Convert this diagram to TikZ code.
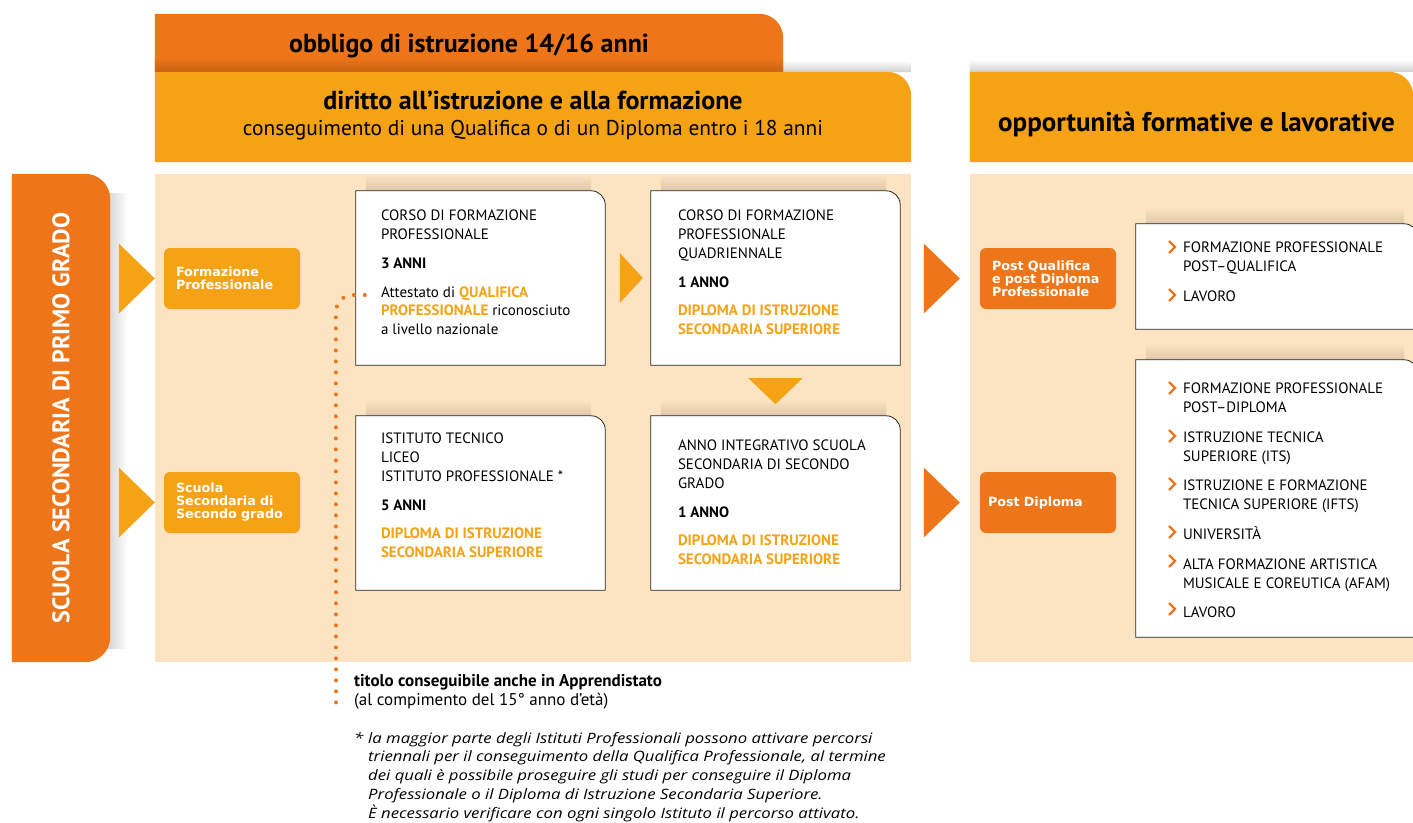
\documentclass[tikz,border=0pt]{standalone}
\usepackage{fontspec}
\setmainfont{PT Sans}
\newfontfamily\tagfont{DejaVu Sans}
\newfontfamily\notefont[FakeStretch=1.17]{Open Sans}
\definecolor{obblorange}{RGB}{236,118,25}
\definecolor{obbldark}{RGB}{196,96,20}
\definecolor{dirittoyellow}{RGB}{245,162,20}
\definecolor{panelpeach}{RGB}{252,227,194}
\definecolor{shadowtan}{RGB}{222,198,168}
\pgfdeclarelayer{background}
\pgfsetlayers{background,main}
\newcommand\hl[1]{\textcolor{dirittoyellow}{\textbf{#1}}}
\newcommand\tabpath[3]{% style, node, corner radius
	\path[#1] (#2.south west) -- (#2.north west) -- ([xshift=-#3]#2.north east)
		arc[start angle=90, end angle=0, radius=#3] -- (#2.south east) -- cycle;
}
\tikzset{
	boxsize/.style 2 args={minimum width=#1, minimum height=#2, inner sep=0pt},
	hdrtext/.style={font=\bfseries\fontsize{26}{30}\selectfont},
	subtext/.style={font=\fontsize{21.4}{24}\selectfont},
	boxtext/.style={anchor=north west, inner sep=0pt, align=left, font=\fontsize{15}{18.8}\selectfont},
	tag/.style={fill=#1, rounded corners=6pt, minimum width=136pt, minimum height=61pt,
		text width=112pt, inner xsep=12pt, align=left, text=white,
		font=\tagfont\bfseries\fontsize{12.7}{13}\selectfont},
	whitebox/.style={fill=white, draw=black!85, line width=0.8pt},
	chevron/.style={obblorange, line width=2.2pt},
	dotline/.style={obblorange, line width=4pt, line cap=round, dash pattern=on 0pt off 11pt},
	notetext/.style={anchor=north west, inner sep=0pt, align=left, font=\notefont\itshape\fontsize{14.3}{18.8}\selectfont},
}
\begin{document}
\begin{tikzpicture}[x=1pt, y=-1pt]
	\useasboundingbox (0,0) rectangle (1413,822);
	% headers
	\node[boxsize={628pt}{58pt}] (obbl) at (469,43) {};
	\node[hdrtext] (obbltxt) at ([yshift=-3pt]obbl.center) {obbligo di istruzione 14/16 anni};
	\node[boxsize={756pt}{90pt}] (dir) at (533,117) {};
	\node[hdrtext] (dirtitle) at ([yshift=16.5pt]dir.center) {diritto all’istruzione e alla formazione};
	\node[subtext] (dirsub) at ([yshift=-13.5pt]dir.center) {conseguimento di una Qualifica o di un Diploma entro i 18 anni};
	\node[boxsize={443pt}{90pt}] (opp) at (1191.5,117) {};
	\node[hdrtext, font=\bfseries\fontsize{27}{30}\selectfont] (opptxt) at ([shift={(5pt,-7pt)}]opp.center) {opportunità formative e lavorative};
	% panels
	\node[boxsize={98pt}{488pt}] (primo) at (61,418) {};
	\node[rotate=90, text=white, font=\bfseries\fontsize{24}{26}\selectfont] (primotxt) at (primo.center) {SCUOLA SECONDARIA DI PRIMO GRADO};
	\node[boxsize={756pt}{488pt}] (mid) at (533,418) {};
	\node[boxsize={443pt}{488pt}] (right) at (1191.5,418) {};
	% tags
	\node[tag=dirittoyellow] (fp) at (232,278.5) {Formazione\\Professionale};
	\node[tag=dirittoyellow] (ss) at (232,502.5) {Scuola\\Secondaria di\\Secondo grado};
	\node[tag=obblorange] (pq) at (1048,278.5) {Post Qualifica\\e post Diploma\\Professionale};
	\node[tag=obblorange, inner xsep=8pt, text width=120pt] (pd) at (1048,502.5) {Post Diploma};
	% white boxes
	\node[boxsize={249pt}{174pt}] (b1) at (480.5,278) {};
	\node[boxsize={249pt}{174pt}] (b2) at (775.5,278) {};
	\node[boxsize={249pt}{174pt}] (b3) at (480.5,503) {};
	\node[boxsize={249pt}{174pt}] (b4) at (775.5,503) {};
	\node[boxsize={282pt}{105pt}] (r1) at (1277,276.5) {};
	\node[boxsize={282pt}{277pt}] (r2) at (1277,498.5) {};
	\node[boxtext] (b1txt) at ([shift={(25pt,-19pt)}]b1.north west)
		{CORSO DI FORMAZIONE\\PROFESSIONALE\\[10pt]\textbf{3 ANNI}\\[10pt]Attestato di \hl{QUALIFICA}\\\hl{PROFESSIONALE} riconosciuto\\a livello nazionale};
	\node[boxtext] (b2txt) at ([shift={(27pt,-19pt)}]b2.north west)
		{CORSO DI FORMAZIONE\\PROFESSIONALE\\QUADRIENNALE\\[10pt]\textbf{1 ANNO}\\[10pt]\hl{DIPLOMA DI ISTRUZIONE}\\\hl{SECONDARIA SUPERIORE}};
	\node[boxtext] (b3txt) at ([shift={(25pt,-17pt)}]b3.north west)
		{ISTITUTO TECNICO\\LICEO\\ISTITUTO PROFESSIONALE *\\[10pt]\textbf{5 ANNI}\\[10pt]\hl{DIPLOMA DI ISTRUZIONE}\\\hl{SECONDARIA SUPERIORE}};
	\node[boxtext] (b4txt) at ([shift={(27pt,-24pt)}]b4.north west)
		{ANNO INTEGRATIVO SCUOLA\\SECONDARIA DI SECONDO\\GRADO\\[10pt]\textbf{1 ANNO}\\[10pt]\hl{DIPLOMA DI ISTRUZIONE}\\\hl{SECONDARIA SUPERIORE}};
	\node[boxtext] (r1txt) at ([shift={(47pt,-18pt)}]r1.north west)
		{FORMAZIONE PROFESSIONALE\\POST–QUALIFICA\\[11pt]LAVORO};
	\node[boxtext] (r2txt) at ([shift={(47pt,-23pt)}]r2.north west)
		{FORMAZIONE PROFESSIONALE\\POST–DIPLOMA\\[11pt]ISTRUZIONE TECNICA\\SUPERIORE (ITS)\\[11pt]ISTRUZIONE E FORMAZIONE\\TECNICA SUPERIORE (IFTS)\\[11pt]UNIVERSITÀ\\[11pt]ALTA FORMAZIONE ARTISTICA\\MUSICALE E COREUTICA (AFAM)\\[11pt]LAVORO};
	% notes
	\node[boxtext, font=\fontsize{17}{19}\selectfont] (appr) at (354,674) {\textbf{titolo conseguibile anche in Apprendistato}\\(al compimento del 15° anno d’età)};
	\node[notetext] (star) at (354,732) {*};
	\node[notetext] (nota) at (368,732) {la maggior parte degli Istituti Professionali possono attivare percorsi\\triennali per il conseguimento della Qualifica Professionale, al termine\\dei quali è possibile proseguire gli studi per conseguire il Diploma\\Professionale o il Diploma di Istruzione Secondaria Superiore.\\È necessario verificare con ogni singolo Istituto il percorso attivato.};

	\begin{pgfonlayer}{background}
		% shadows and fills
		\shade[left color=black!30, right color=white] ([shift={(-20pt,-20pt)}]primo.north east) rectangle ([shift={(18pt,14pt)}]primo.south east);
		\shade[top color=white, bottom color=black!18] ([yshift=12pt]opp.north west) rectangle (opp.north east);
		\shade[top color=white, bottom color=black!18] ([yshift=12pt]obbl.south east) rectangle (dir.north east);
		\fill[obblorange] (primo.south west) -- (primo.north west) -- ([xshift=-25pt]primo.north east)
			arc[start angle=90, end angle=0, radius=25pt] -- ([yshift=25pt]primo.south east)
			arc[start angle=0, end angle=-90, radius=25pt] -- cycle;
		\tabpath{fill=obblorange}{obbl}{24pt}
		\shade[top color=obblorange, bottom color=obbldark] ([yshift=14pt]obbl.south west) rectangle (obbl.south east);
		\tabpath{fill=dirittoyellow}{dir}{24pt}
		\tabpath{fill=dirittoyellow}{opp}{24pt}
		\fill[panelpeach] (mid.north west) rectangle (mid.south east);
		\fill[panelpeach] (right.north west) rectangle (right.south east);
		\foreach \b in {b1,b2,b3,b4,r1,r2}{
			\shade[top color=panelpeach, bottom color=shadowtan] ([shift={(10pt,16pt)}]\b.north west) rectangle ([xshift=-14pt]\b.north east);
			\tabpath{whitebox}{\b}{14pt}
		}
	\end{pgfonlayer}

	% arrows
	\foreach \n/\c/\g in {fp/dirittoyellow/9pt, ss/dirittoyellow/9pt, pq/obblorange/20pt, pd/obblorange/20pt}{
		\fill[\c] ([xshift=-\g]\n.west) -- ++(-36pt,35pt) -- ++(0,-70pt) -- cycle;
	}
	\fill[dirittoyellow] ([xshift=-8pt]b2.west) -- ++(-23pt,25pt) -- ++(0,-50pt) -- cycle;
	\fill[dirittoyellow] ([yshift=-39pt]b2.south) -- ++(-27pt,26pt) -- ++(54pt,0) -- cycle;
	\foreach \y in {247,295,388,436,484,532,561,609}{
		\draw[chevron] (1169,\y-6) -- (1175,\y) -- (1169,\y+6);
	}
	% apprendistato
	\draw[dotline] ([shift={(9pt,-17pt)}]b1.west) -- ++(-12pt,0)
		.. controls +(-10pt,0pt) and +(0,10pt) .. ++(-17pt,-18pt) -- ([xshift=-18pt]appr.south west);
\end{tikzpicture}
\end{document}
